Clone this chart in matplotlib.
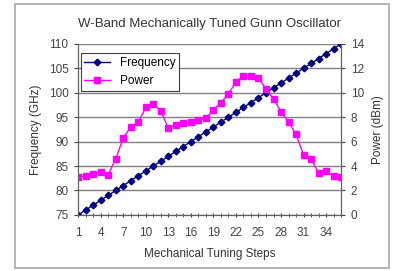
import matplotlib.pyplot as plt
from matplotlib.patches import Rectangle

plt.rcParams['font.family'] = ['Liberation Sans', 'DejaVu Sans']

steps = list(range(1, 37))
frequency = [75, 76, 77, 78, 79, 80, 81, 82, 83, 84, 85, 86, 87, 88, 89, 90, 91, 92,
             93, 94, 95, 96, 97, 98, 99, 100, 101, 102, 103, 104, 105, 106, 107, 108, 109, 110]
power = [3.1, 3.2, 3.35, 3.5, 3.3, 4.6, 6.3, 7.2, 7.6, 8.8, 9.1, 8.5, 7.1, 7.4, 7.5, 7.6, 7.8, 7.9,
         8.6, 9.2, 9.9, 10.9, 11.4, 11.4, 11.2, 10.3, 9.5, 8.45, 7.6, 6.6, 4.9, 4.6, 3.4, 3.6, 3.15, 3.1]
xtick_labels = [1, 4, 7, 10, 13, 16, 19, 22, 25, 28, 31, 34]

fig = plt.figure(figsize=(3.93, 2.71), dpi=100)
fig.patches.append(Rectangle((0.038, 0.01), 0.952, 0.975, transform=fig.transFigure,
                             fill=False, edgecolor='#a8a8a8', lw=1.2))

ax = fig.add_axes([0.199, 0.207, 0.669, 0.631])
ax2 = ax.twinx()

l1, = ax.plot(steps, frequency, color='#000080', marker='D', markersize=3.4, lw=1)
l2, = ax2.plot(steps, power, color='#ff00ff', marker='s', markersize=5, lw=1)

ax.set_xlim(1, 36)
ax.set_ylim(75, 110)
ax2.set_ylim(0, 14)
ax.set_yticks(range(75, 111, 5))
ax2.set_yticks(range(0, 15, 2))
ax.set_xticks(xtick_labels)
ax.set_xticks(steps, minor=True)
ax.tick_params(axis='x', which='both', length=3, direction='inout', pad=7,
               labelsize=8.5, colors='#444444')
ax.tick_params(axis='y', length=3, pad=4, labelsize=8.5, colors='#444444')
ax2.tick_params(axis='y', length=3, pad=4, labelsize=8.5, colors='#444444')

ax.grid(axis='y', color='#808080', lw=1)
ax.set_axisbelow(True)
for a in (ax, ax2):
    a.spines['top'].set_visible(False)
    for s in ('left', 'bottom', 'right'):
        a.spines[s].set_color('#606060')

ax.set_title('W-Band Mechanically Tuned Gunn Oscillator', fontsize=9.5, color='#333333', pad=12)
ax.set_xlabel('Mechanical Tuning Steps', fontsize=8.5, color='#333333', labelpad=7)
ax.set_ylabel('Frequency (GHz)', fontsize=8.5, color='#333333', labelpad=5)
ax2.set_ylabel('Power (dBm)', fontsize=8.5, color='#333333', labelpad=6)

leg = ax2.legend([l1, l2], ['Frequency', 'Power'], loc='upper left', fontsize=8.5,
                 fancybox=False, framealpha=1, edgecolor='#404040',
                 bbox_to_anchor=(0.0, 0.96), borderpad=0.3, labelspacing=0.55,
                 handlelength=2.2, borderaxespad=0.2)
leg.get_frame().set_linewidth(0.8)

fig.savefig('out.png', dpi=100)
